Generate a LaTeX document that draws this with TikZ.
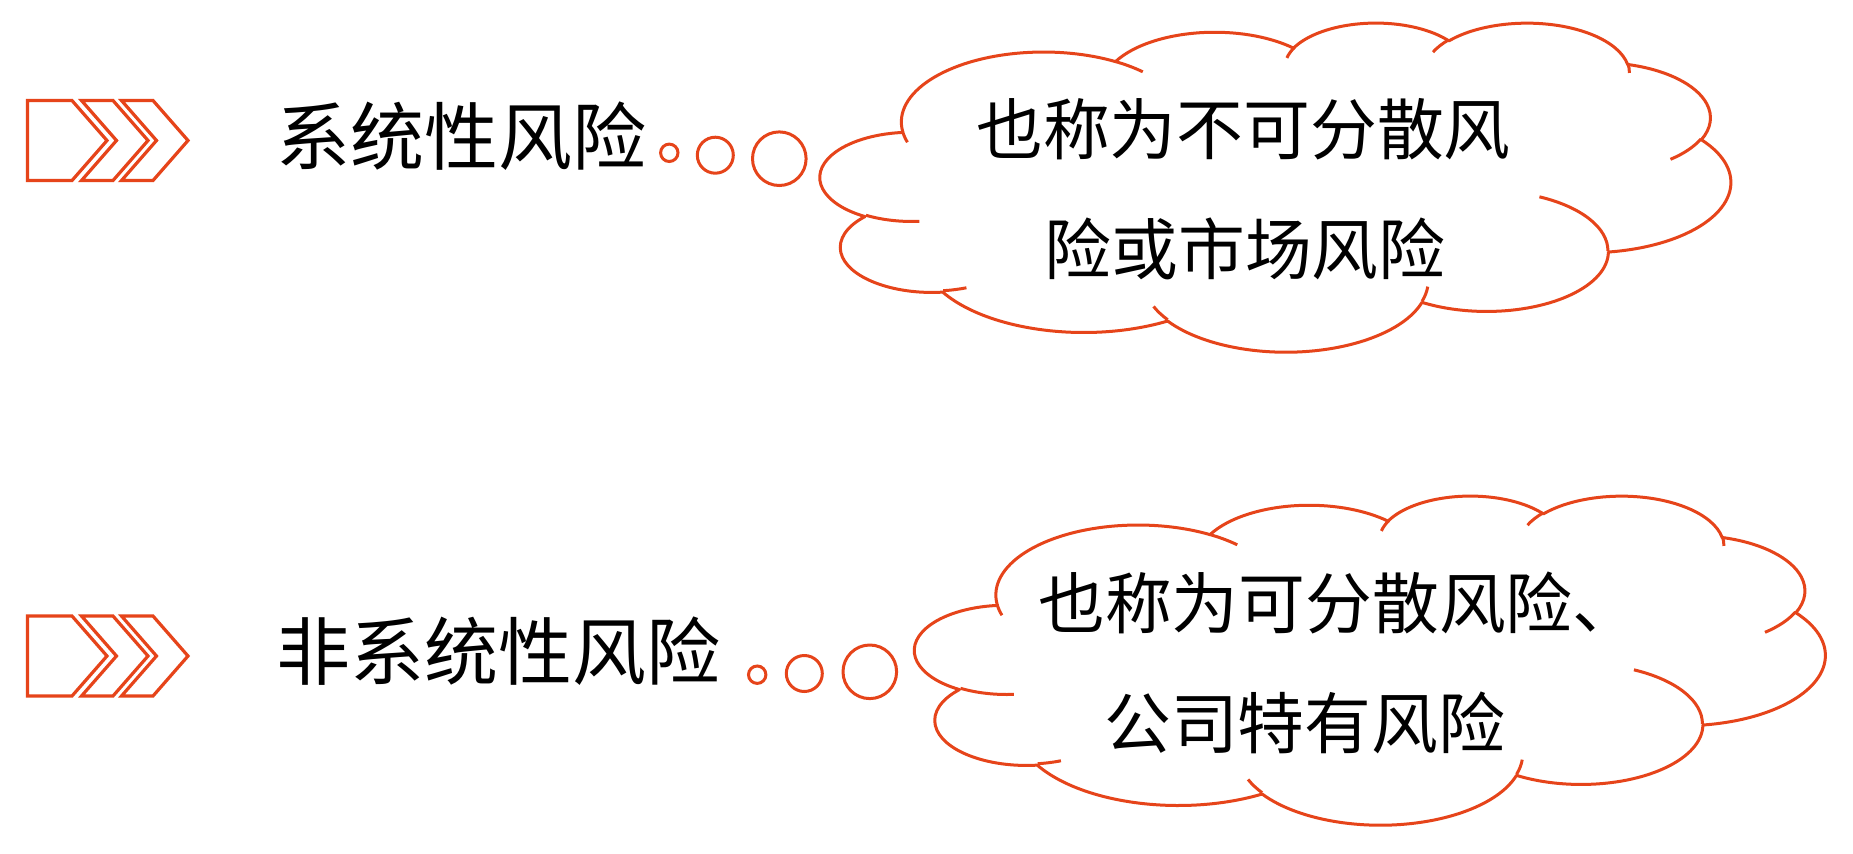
\documentclass[tikz,border=0pt]{standalone}
\usepackage{fontspec}
\newfontfamily\cjk{Noto Sans CJK SC}
\definecolor{accent}{RGB}{230,68,26}
% OOXML-style cloud arcs: visual angles converted to parametric ones
\newcommand\cldarc[5]{%
  \pgfmathsetmacro\cldtmpS{atan2((#2)*sin(#4),(#3)*cos(#4))}%
  \pgfmathsetmacro\cldtmpE{atan2((#2)*sin((#4)+(#5)),(#3)*cos((#4)+(#5)))}%
  \pgfmathsetmacro\cldtmpD{mod(\cldtmpE-\cldtmpS+720,360)}%
  \expandafter\xdef\csname #1\endcsname{arc[x radius=#2, y radius=#3, start angle=\cldtmpS, delta angle=\cldtmpD]}%
}
\cldarc{arcMA}{67.53}{91.90}{-190.4875}{123.7805}
\cldarc{arcMB}{53.33}{72.67}{-144.1024}{89.9452}
\cldarc{arcMC}{43.65}{59.45}{-145.8079}{99.7230}
\cldarc{arcMD}{48.57}{65.95}{-130.9861}{117.2417}
\cldarc{arcME}{53.33}{72.73}{-78.7089}{109.0269}
\cldarc{arcMF}{67.75}{92.20}{-46.2673}{130.2690}
\cldarc{arcMG}{57.85}{78.67}{0.6250}{114.0333}
\cldarc{arcMH}{67.52}{92.15}{22.4516}{115.1726}
\cldarc{arcMI}{77.20}{105.43}{66.2426}{75.7110}
\cldarc{arcMJ}{43.60}{59.18}{-274.9421}{146.7356}
\cldarc{arcMK}{43.45}{59.45}{-246.8285}{152.5226}
\cldarc{arcTA}{43.45}{59.45}{86.7420}{26.4295}
\cldarc{arcTB}{43.60}{59.18}{73.6105}{11.4475}
\cldarc{arcTC}{67.52}{92.15}{137.6242}{14.0811}
\cldarc{arcTD}{67.52}{92.15}{6.4533}{15.9984}
\cldarc{arcTE}{57.85}{78.67}{-70.2924}{70.9174}
\cldarc{arcTF}{53.33}{72.73}{30.3180}{27.7515}
\cldarc{arcTG}{48.57}{65.95}{-13.7443}{14.8512}
\cldarc{arcTH}{48.57}{65.95}{-149.1815}{18.1959}
\cldarc{arcTI}{43.65}{59.45}{-163.4943}{17.6942}
\cldarc{arcTJ}{67.53}{91.90}{-66.7070}{12.3194}
\cldarc{arcTK}{67.53}{91.90}{157.6544}{11.8582}
\newcommand\drawcloud[2]{%
  \begin{scope}[shift={(#1,#2)}, xscale=2.106481, yscale=0.761574]
    \draw[cloudline, fill=white] (39.00,143.70) \arcMA \arcMB \arcMC \arcMD \arcME \arcMF \arcMG \arcMH \arcMI \arcMJ \arcMK -- cycle;
    \draw[cloudline] (46.93,261.77) \arcTA (69.28,348.99) \arcTB (164.78,390.90) \arcTC
      (288.27,347.51) \arcTD (341.29,229.54) \arcTE (417.98,153.54) \arcTF
      (383.24,54.26) \arcTG (290.78,39.52) \arcTH (221.41,47.20) \arcTI
      (140.00,51.92) \arcTJ (41.27,157.89) \arcTK;
  \end{scope}}
\tikzset{
  cloudline/.style={draw=accent, line width=3pt, line join=round},
  chev/.style={draw=accent, line width=3.2pt, line join=miter},
  bubble/.style={circle, draw=accent, line width=3pt, inner sep=0pt, fill=white},
  label/.style={font=\cjk\fontsize{74}{80}\selectfont, inner sep=0pt, anchor=west, text=black},
  cloudtext/.style={font=\cjk\fontsize{66.8}{72}\selectfont, inner sep=0pt, anchor=west, text=black}
}
\begin{document}
\begin{tikzpicture}[x=1pt, y=-1pt]
  \fill[white] (0,0) rectangle (1853,854);
  \useasboundingbox (0,0) rectangle (1853,854);
  % chevrons, row 1 and row 2
  \foreach \dy in {0,515.5} {
    \begin{scope}[shift={(0,\dy)}]
      \draw[chev] (27.5,100.5) -- (72,100.5) -- (107,140.5) -- (72,180.5) -- (27.5,180.5) -- cycle;
      \draw[chev] (81.5,100.5) -- (113,100.5) -- (148,140.5) -- (113,180.5) -- (81.5,180.5) -- (116.5,140.5) -- cycle;
      \draw[chev] (121.5,100.5) -- (153,100.5) -- (188,140.5) -- (153,180.5) -- (121.5,180.5) -- (156.5,140.5) -- cycle;
    \end{scope}
  }
  % labels
  \node[label] (l1) at (276,136) {系统性风险};
  \node[label] (l2) at (276,651) {非系统性风险};
  % thought bubbles
  \node[bubble, minimum size=17.4pt] (b1s) at (669.3,152.8) {};
  \node[bubble, minimum size=36pt]   (b1m) at (715.3,155.2) {};
  \node[bubble, minimum size=53.6pt] (b1l) at (779.3,158.7) {};
  \node[bubble, minimum size=17.4pt] (b2s) at (757.2,674.7) {};
  \node[bubble, minimum size=36pt]   (b2m) at (804.3,673.5) {};
  \node[bubble, minimum size=53.6pt] (b2l) at (869.8,671.8) {};
  % clouds
  \drawcloud{820.5}{22}
  \drawcloud{915}{495}
  % cloud texts
  \node[cloudtext] (c1a) at (976,129) {也称为不可分散风};
  \node[cloudtext] (c1b) at (1044.5,249) {险或市场风险};
  \node[cloudtext] (c2a) at (1038,603) {也称为可分散风险、};
  \node[cloudtext] (c2b) at (1104,722.5) {公司特有风险};
\end{tikzpicture}
\end{document}
